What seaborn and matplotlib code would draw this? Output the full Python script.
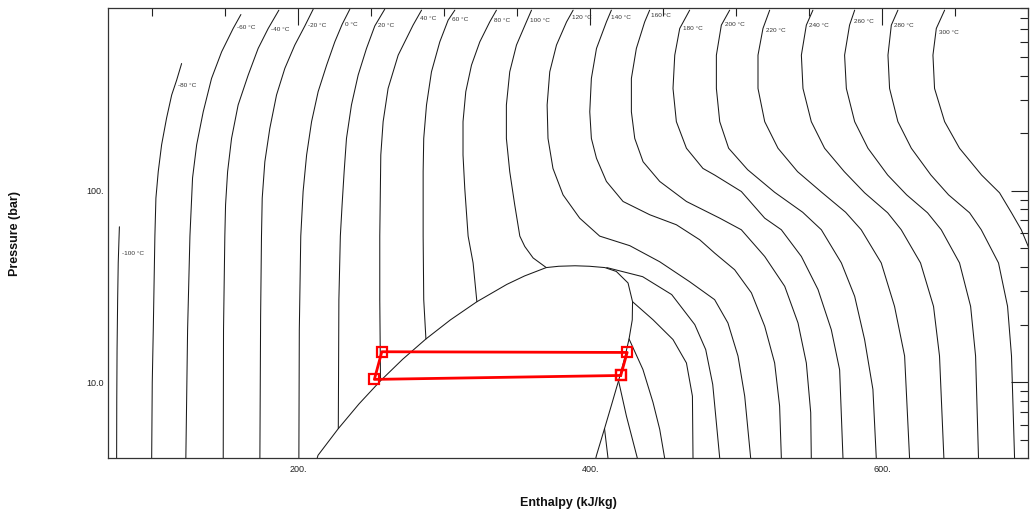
import numpy as np
import pandas as pd
import matplotlib
matplotlib.use("Agg")
import matplotlib.pyplot as plt
import seaborn as sns

# ---------------- data ----------------
# isotherms: enthalpy h (kJ/kg) and pressure p (bar)
iso_m100_h = [77.6, 77.3, 76.8, 76.4, 76.0, 75.8, 75.7]
iso_m100_p = [64.9, 55.5, 42.1, 27.0, 14.8, 8.12, 4.0]
iso_m80_h = [120.2, 116.8, 113.4, 109.9, 106.5, 104.2, 102.6, 101.9, 100.8, 100.1, 99.7]
iso_m80_p = [463, 379, 317, 240, 174, 126, 91.6, 58.0, 18.8, 9.97, 4.0]
iso_m60_h = [160.8, 155.5, 147.6, 140.7, 135.0, 130.5, 127.7, 125.9, 124.3, 123.1]
iso_m60_p = [835, 706, 533, 387, 259, 174, 117, 58.0, 18.8, 4.0]
iso_m40_h = [186.8, 179.5, 172.6, 165.8, 158.9, 154.4, 151.7, 150.3, 149.8, 148.9, 148.7]
iso_m40_p = [880, 706, 555, 403, 281, 188, 126, 84.6, 58.0, 18.8, 4.0]
iso_m20_h = [210.3, 204.6, 197.7, 190.9, 185.2, 180.6, 177.2, 175.4, 174.9, 174.3, 173.8]
iso_m20_p = [890, 728, 578, 437, 317, 212, 142, 91.6, 58.0, 22.0, 4.0]
iso_0_h = [235.4, 230.1, 225.1, 219.5, 213.7, 209.2, 205.8, 203.4, 201.8, 200.8, 200.5]
iso_0_p = [890, 741, 601, 454, 330, 230, 154, 99.2, 58.0, 18.8, 4.0]
iso_20_h = [259.3, 252.5, 246.8, 241.1, 236.5, 233.1, 231.5, 230.1, 228.9, 227.9, 227.5]
iso_20_p = [890, 728, 555, 403, 281, 188, 126, 84.6, 58.0, 27.0, 5.72]
iso_20v_h = [409.8, 412.2]
iso_20v_p = [5.72, 4.0]
iso_40_h = [284.5, 278.7, 268.5, 261.6, 258.2, 256.6, 255.9, 255.9, 256.4]
iso_40_p = [880, 735, 512, 343, 230, 154, 58.0, 27.0, 10.17]
iso_40v_h = [419.4, 424.8, 428.4, 432.3]
iso_40v_p = [10.17, 6.65, 5.21, 4.0]
iso_60_h = [307.3, 302.7, 297.0, 291.3, 287.9, 286.0, 285.6, 285.6, 286.0, 287.5]
iso_60_p = [880, 780, 601, 419, 281, 188, 126, 58.0, 27.0, 16.82]
iso_60v_h = [426.6, 436.1, 443.0, 447.6, 451.0]
iso_60v_p = [16.82, 11.65, 7.84, 5.67, 4.0]
iso_80_h = [335.8, 331.2, 324.4, 318.7, 314.8, 312.9, 312.9, 314.1, 316.4, 319.8, 322.4]
iso_80_p = [880, 764, 601, 454, 330, 230, 154, 103, 58.0, 42.0, 26.33]
iso_80v_h = [429.0, 443.0, 456.7, 465.9, 470.0, 470.4]
iso_80v_p = [26.33, 21.2, 16.7, 12.6, 8.45, 4.0]
iso_100_h = [359.8, 356.3, 349.5, 344.9, 342.6, 342.6, 344.9, 348.3, 351.8, 355.2, 360.9, 369.9]
iso_100_p = [880, 764, 578, 419, 281, 188, 126, 84.6, 58.0, 51.2, 44.6, 39.72]
iso_100v_h = [411.3, 435.9, 455.8, 471.6, 479.1, 483.9, 488.7]
iso_100v_p = [39.72, 35.6, 28.7, 20.0, 14.8, 9.73, 4.0]
iso_120_h = [388.3, 383.8, 376.9, 372.3, 370.5, 371.1, 374.5, 381.4, 392.8, 406.5, 427.1, 447.6, 468.1, 485.2, 494.3, 501.2, 505.8, 509.9]
iso_120_p = [880, 764, 578, 419, 281, 188, 131, 95.3, 72.0, 58.0, 51.7, 42.6, 33.5, 27.0, 20.4, 13.7, 8.45, 4.0]
iso_140_h = [414.5, 411.1, 404.3, 400.8, 399.7, 400.8, 404.3, 411.1, 422.5, 440.8, 459.0, 475.0, 485.2, 498.9, 510.4, 519.5, 526.3, 529.7, 530.9]
iso_140_p = [880, 764, 555, 387, 259, 188, 148, 112, 88.0, 75.0, 66.5, 55.5, 47.3, 38.7, 29.3, 19.6, 12.6, 7.5, 4.0]
iso_160_h = [440.7, 437.3, 431.6, 428.2, 428.2, 430.5, 436.2, 447.6, 465.9, 488.7, 503.5, 519.5, 533.2, 542.3, 548.0, 551.0, 551.4]
iso_160_p = [880, 764, 555, 387, 259, 188, 142, 112, 88.0, 72.0, 62.6, 45.4, 31.7, 20.4, 12.6, 6.93, 4.0]
iso_180_h = [468.1, 461.3, 457.9, 456.7, 459.0, 465.9, 477.2, 485.2, 503.5, 519.5, 530.9, 544.6, 556.0, 565.1, 570.8, 573.1]
iso_180_p = [880, 706, 512, 343, 230, 167, 131, 121, 99.2, 72.0, 62.6, 45.4, 30.5, 18.8, 11.6, 4.0]
iso_200_h = [495.5, 489.8, 486.4, 486.4, 488.7, 494.8, 507.8, 526.3, 545.5, 558.3, 572.0, 581.1, 587.9, 593.6, 595.9]
iso_200_p = [880, 735, 512, 343, 230, 167, 129, 98.3, 77.3, 62.6, 42.0, 28.1, 16.7, 9.16, 4.0]
iso_220_h = [522.9, 518.3, 514.9, 514.9, 519.5, 528.6, 542.0, 558.5, 574.9, 585.6, 599.3, 608.4, 615.3, 618.7]
iso_220_p = [880, 706, 512, 343, 230, 167, 126, 98.3, 77.3, 62.6, 42.0, 24.9, 13.7, 4.0]
iso_240_h = [552.5, 548.0, 544.6, 545.7, 551.4, 560.5, 574.0, 587.9, 603.7, 613.0, 626.2, 635.1, 639.2, 642.2]
iso_240_p = [880, 735, 512, 343, 230, 167, 126, 97.7, 76.8, 62.6, 42.0, 24.9, 13.7, 4.0]
iso_260_h = [581.1, 577.6, 574.2, 575.4, 581.1, 590.2, 603.7, 616.7, 631.0, 640.4, 652.9, 660.5, 663.9, 665.9]
iso_260_p = [880, 735, 512, 343, 230, 167, 121, 95.3, 76.8, 62.6, 42.0, 24.9, 13.7, 4.0]
iso_280_h = [610.7, 606.2, 603.9, 605.0, 610.7, 619.9, 633.3, 645.4, 659.8, 667.8, 679.6, 685.8, 688.5, 690.6]
iso_280_p = [880, 735, 512, 343, 230, 167, 121, 95.3, 76.8, 62.6, 42.0, 24.9, 13.7, 4.0]
iso_300_h = [642.7, 637.0, 634.7, 635.8, 642.7, 652.9, 668.0, 680.3, 688.5, 695.2, 700.9]
iso_300_p = [880, 706, 512, 343, 230, 167, 121, 97.7, 76.8, 62.6, 49.2]

# saturation dome (liquid side up to the critical point, then vapour side down)
dome_h = [213.0, 213.6, 227.5, 241.7, 256.4, 271.6, 287.5, 304.3, 322.4, 342.9, 355.0, 369.9,
          378.5, 389.6, 399.5, 410.0, 417.9, 425.9, 429.0, 428.8, 426.6, 423.4, 419.4,
          414.8, 409.8, 404.3, 403.8]
dome_p = [4.0, 4.146, 5.717, 7.702, 10.17, 13.18, 16.82, 21.17, 26.33, 32.44, 35.9, 39.72,
          40.35, 40.59, 40.35, 39.72, 37.9, 33.0, 26.33, 21.17, 16.82, 13.18, 10.17,
          7.702, 5.717, 4.146, 4.0]

# refrigeration cycle (1 -> 2 -> 3 -> 4 -> 1)
cycle_h = [420.9, 425.3, 257.3, 252.2, 420.9]
cycle_p = [10.84, 14.30, 14.42, 10.34, 10.84]

# isotherm labels (temperature, pressure where the label sits)
label_T = [-100, -80, -60, -40, -20, 0, 20, 40, 60, 80, 100, 120, 140, 160, 180, 200, 220, 240, 260, 280, 300]
label_p = [46.9, 357, 717, 700, 735, 744, 735, 799, 789, 780, 780, 809, 809, 828, 709, 744, 692, 735, 771, 735, 675]

x_major = [200, 400, 600]
x_major_labels = ["200.", "400.", "600."]
y_major = [10, 100]
y_major_labels = ["10.0", "100."]

segments = [
    (-100, "L", iso_m100_h, iso_m100_p), (-80, "L", iso_m80_h, iso_m80_p),
    (-60, "L", iso_m60_h, iso_m60_p), (-40, "L", iso_m40_h, iso_m40_p),
    (-20, "L", iso_m20_h, iso_m20_p), (0, "L", iso_0_h, iso_0_p),
    (20, "L", iso_20_h, iso_20_p), (20, "V", iso_20v_h, iso_20v_p),
    (40, "L", iso_40_h, iso_40_p), (40, "V", iso_40v_h, iso_40v_p),
    (60, "L", iso_60_h, iso_60_p), (60, "V", iso_60v_h, iso_60v_p),
    (80, "L", iso_80_h, iso_80_p), (80, "V", iso_80v_h, iso_80v_p),
    (100, "L", iso_100_h, iso_100_p), (100, "V", iso_100v_h, iso_100v_p),
    (120, "L", iso_120_h, iso_120_p), (140, "L", iso_140_h, iso_140_p),
    (160, "L", iso_160_h, iso_160_p), (180, "L", iso_180_h, iso_180_p),
    (200, "L", iso_200_h, iso_200_p), (220, "L", iso_220_h, iso_220_p),
    (240, "L", iso_240_h, iso_240_p), (260, "L", iso_260_h, iso_260_p),
    (280, "L", iso_280_h, iso_280_p), (300, "L", iso_300_h, iso_300_p),
]

rows = []
for T, part, hs, ps in segments:
    for i, (h, p) in enumerate(zip(hs, ps)):
        rows.append({"seg": f"{T}{part}", "T": T, "order": i, "h": h, "p": p})
iso_df = pd.DataFrame(rows)
dome_df = pd.DataFrame({"h": dome_h, "p": dome_p})
cycle_df = pd.DataFrame({"h": cycle_h, "p": cycle_p})

# ---------------- figure ----------------
sns.set_theme(style="white")
plt.rcParams["font.family"] = ["Liberation Sans", "DejaVu Sans"]

W, H = 1030, 517
fig = plt.figure(figsize=(W / 100, H / 100), dpi=100)
ax = fig.add_axes([108.3 / W, 1 - 458.3 / H, 920 / W, 450 / H])

line_col = "#1a1a1a"
sns.lineplot(data=iso_df, x="h", y="p", units="seg", estimator=None, sort=False,
             color=line_col, lw=0.75, ax=ax, legend=False)
sns.lineplot(data=dome_df, x="h", y="p", estimator=None, sort=False,
             color=line_col, lw=0.75, ax=ax, legend=False)
sns.lineplot(data=cycle_df, x="h", y="p", estimator=None, sort=False,
             color="#ff0000", lw=2.0, marker="s", markersize=7.5,
             markerfacecolor="none", markeredgecolor="#ff0000", markeredgewidth=1.6,
             ax=ax, legend=False)

ax.set_yscale("log")
ax.set_xlim(70, 700)
ax.set_ylim(4.0, 900)

# labels on isotherms
first_seg = {T: (hs, ps) for T, part, hs, ps in reversed(segments) if part == "L"}
for T, pl in zip(label_T, label_p):
    hs, ps = first_seg[T]
    lp = np.log10(ps)
    order = np.argsort(lp)
    hl = np.interp(np.log10(pl), lp[order], np.array(hs)[order])
    ax.annotate(f"{T} °C", xy=(hl, pl), xytext=(2.2, 0), textcoords="offset points",
                fontsize=4.6, color="#333333", va="center", ha="left")

# ticks
ax.set_xticks(x_major)
ax.set_xticklabels(x_major_labels)
ax.set_xticks(np.arange(100, 701, 50), minor=True)
ax.set_yticks(y_major)
ax.set_yticklabels(y_major_labels)
minor_y = [v * d for d in (1, 10, 100) for v in range(2, 10) if 4 <= v * d <= 900]
ax.set_yticks(minor_y, minor=True)
ax.yaxis.set_minor_formatter(matplotlib.ticker.NullFormatter())
ax.tick_params(which="both", direction="in", top=True, right=True, colors="#222222",
               labelcolor="#222222", labelsize=6.5)
ax.tick_params(which="major", length=12, width=0.8)
ax.tick_params(which="minor", length=6, width=0.8)
ax.tick_params(axis="x", pad=5)
ax.tick_params(axis="y", pad=3)

for s in ax.spines.values():
    s.set_linewidth(0.9)
    s.set_color("#333333")
ax.grid(False)

ax.set_xlabel("Enthalpy (kJ/kg)", fontsize=9, fontweight="bold", color="#111111")
ax.set_ylabel("Pressure (bar)", fontsize=9, fontweight="bold", color="#111111")
ax.xaxis.set_label_coords(0.5, -(503 - 458.3) / 450)
ax.xaxis.label.set_va("center")
ax.yaxis.set_label_coords(-(108.3 - 15) / 920, 0.5)
ax.yaxis.label.set_va("center")

fig.savefig("out.png", dpi=100)
